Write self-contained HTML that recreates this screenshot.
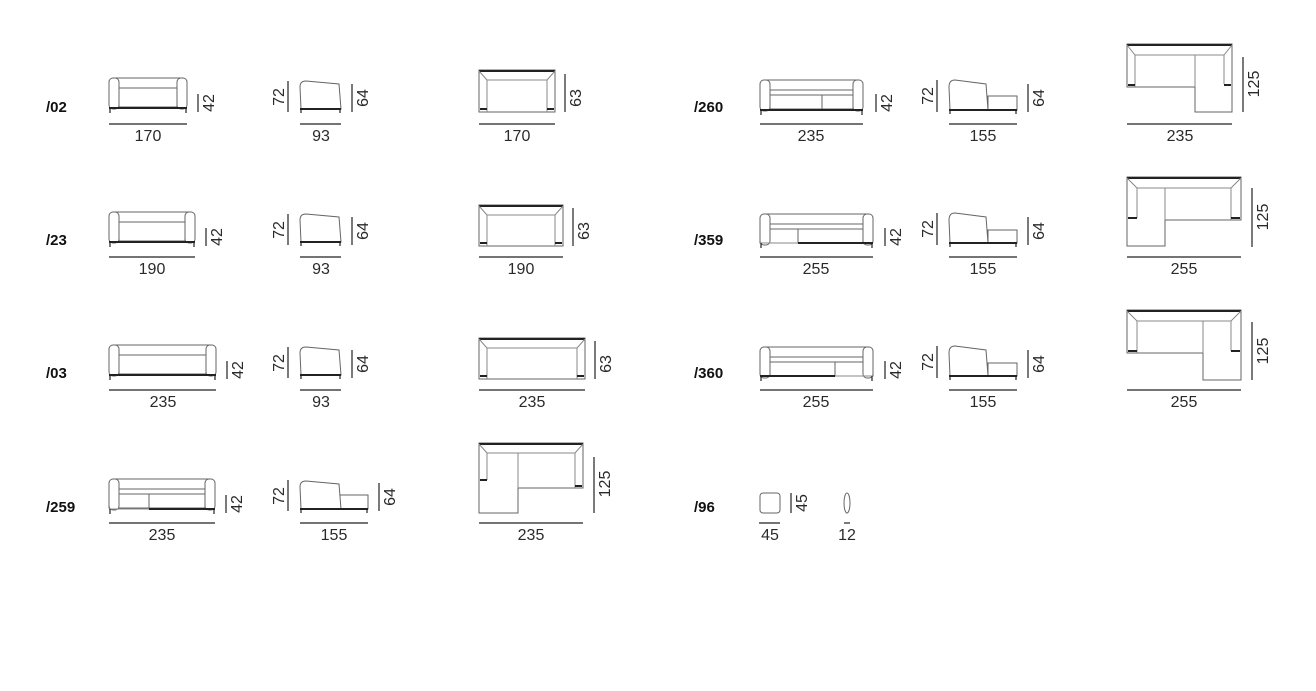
<!DOCTYPE html>
<html><head><meta charset="utf-8"><style>
html,body{margin:0;padding:0;background:#fff;}
svg{display:block}
text{font-family:"Liberation Sans",sans-serif;font-size:16px;fill:#2a2a2a}
.lb{font-weight:bold;font-size:15px;fill:#111}
.s{fill:#fff;stroke:#666;stroke-width:1}
.l{stroke:#888;stroke-width:1;fill:none}
.d{stroke:#222;stroke-width:1.2}
.b{stroke:#222;stroke-width:2}
</style></head><body>
<svg width="1316" height="691" viewBox="0 0 1316 691">

<text class="lb" x="46" y="112">/02</text>
<text class="lb" x="46" y="245">/23</text>
<text class="lb" x="46" y="378">/03</text>
<text class="lb" x="46" y="512">/259</text>
<text class="lb" x="694" y="112">/260</text>
<text class="lb" x="694" y="245">/359</text>
<text class="lb" x="694" y="378">/360</text>
<text class="lb" x="694" y="512">/96</text>

<g>
<rect class="s" x="113" y="78" width="70" height="10"/>
<rect class="s" x="119" y="88" width="58" height="19"/>
<rect class="s" x="109" y="78" width="10" height="31" rx="4"/>
<rect class="s" x="177" y="78" width="10" height="31" rx="4"/>
<line class="b" x1="109" y1="108" x2="187" y2="108"/>
<line class="d" x1="110" y1="108" x2="110" y2="113"/><line class="d" x1="186" y1="108" x2="186" y2="113"/>
</g>
<g>
<rect class="s" x="113" y="212" width="78" height="10"/>
<rect class="s" x="119" y="222" width="66" height="19"/>
<rect class="s" x="109" y="212" width="10" height="31" rx="4"/>
<rect class="s" x="185" y="212" width="10" height="31" rx="4"/>
<line class="b" x1="109" y1="242" x2="195" y2="242"/>
<line class="d" x1="110" y1="242" x2="110" y2="247"/><line class="d" x1="194" y1="242" x2="194" y2="247"/>
</g>
<g>
<rect class="s" x="113" y="345" width="99" height="10"/>
<rect class="s" x="119" y="355" width="87" height="19"/>
<rect class="s" x="109" y="345" width="10" height="31" rx="4"/>
<rect class="s" x="206" y="345" width="10" height="31" rx="4"/>
<line class="b" x1="109" y1="375" x2="216" y2="375"/>
<line class="d" x1="110" y1="375" x2="110" y2="380"/><line class="d" x1="215" y1="375" x2="215" y2="380"/>
</g>
<g>
<rect class="s" x="113" y="479" width="98" height="10"/>
<rect class="s" x="109" y="494" width="40" height="14"/>
<rect class="s" x="149" y="494" width="56" height="14"/>
<rect class="s" x="109" y="479" width="10" height="31" rx="4"/>
<rect class="s" x="205" y="479" width="10" height="31" rx="4"/>
<line class="b" x1="149" y1="509" x2="215" y2="509"/>
<line class="l" x1="109" y1="509" x2="149" y2="509"/>
<line class="d" x1="110" y1="509" x2="110" y2="514"/><line class="d" x1="214" y1="509" x2="214" y2="514"/>
</g>
<g>
<rect class="s" x="764" y="80" width="95" height="10"/>
<rect class="s" x="770" y="95" width="52" height="14"/>
<rect class="s" x="822" y="95" width="31" height="14"/>
<rect class="s" x="760" y="80" width="10" height="31" rx="4"/>
<rect class="s" x="853" y="80" width="10" height="31" rx="4"/>
<line class="b" x1="760" y1="110" x2="863" y2="110"/>
<line class="d" x1="761" y1="110" x2="761" y2="115"/><line class="d" x1="862" y1="110" x2="862" y2="115"/>
</g>
<g>
<rect class="s" x="764" y="214" width="105" height="10"/>
<rect class="s" x="760" y="229" width="38" height="14"/>
<rect class="s" x="798" y="229" width="65" height="14"/>
<rect class="s" x="760" y="214" width="10" height="31" rx="4"/>
<rect class="s" x="863" y="214" width="10" height="31" rx="4"/>
<line class="b" x1="798" y1="243" x2="873" y2="243"/>
<line class="l" x1="760" y1="243" x2="798" y2="243"/>
<line class="d" x1="761" y1="243" x2="761" y2="248"/><line class="d" x1="872" y1="243" x2="872" y2="248"/>
</g>
<g>
<rect class="s" x="764" y="347" width="105" height="10"/>
<rect class="s" x="770" y="362" width="65" height="14"/>
<rect class="s" x="835" y="362" width="38" height="14"/>
<rect class="s" x="760" y="347" width="10" height="31" rx="4"/>
<rect class="s" x="863" y="347" width="10" height="31" rx="4"/>
<line class="b" x1="760" y1="376" x2="835" y2="376"/>
<line class="l" x1="835" y1="376" x2="873" y2="376"/>
<line class="d" x1="761" y1="376" x2="761" y2="381"/><line class="d" x1="872" y1="376" x2="872" y2="381"/>
</g>

<g>
<path class="s" d="M301,109 L300,87 Q300,81 306,81 L339,84 L341,109 Z"/><line class="b" x1="300" y1="109" x2="341" y2="109"/>
<line class="d" x1="301" y1="109" x2="301" y2="113"/><line class="d" x1="340" y1="109" x2="340" y2="113"/>
<path class="s" d="M301,242 L300,220 Q300,214 306,214 L339,217 L341,242 Z"/><line class="b" x1="300" y1="242" x2="341" y2="242"/>
<line class="d" x1="301" y1="242" x2="301" y2="246"/><line class="d" x1="340" y1="242" x2="340" y2="246"/>
<path class="s" d="M301,375 L300,353 Q300,347 306,347 L339,350 L341,375 Z"/><line class="b" x1="300" y1="375" x2="341" y2="375"/>
<line class="d" x1="301" y1="375" x2="301" y2="379"/><line class="d" x1="340" y1="375" x2="340" y2="379"/>
<rect class="s" x="340" y="495" width="28" height="14"/>
<path class="s" d="M301,509 L300,487 Q300,481 306,481 L339,484 L341,509 Z"/><line class="b" x1="300" y1="509" x2="368" y2="509"/>
<line class="d" x1="301" y1="509" x2="301" y2="513"/><line class="d" x1="367" y1="509" x2="367" y2="513"/>
<rect class="s" x="988" y="96" width="29" height="14"/>
<path class="s" d="M950,110 L949,87 Q949,80 955,80 L986,84 L988,110 Z"/><line class="b" x1="949" y1="110" x2="1017" y2="110"/>
<line class="d" x1="950" y1="110" x2="950" y2="114"/><line class="d" x1="1016" y1="110" x2="1016" y2="114"/>
<rect class="s" x="988" y="230" width="29" height="13"/>
<path class="s" d="M950,243 L949,220 Q949,213 955,213 L986,217 L988,243 Z"/><line class="b" x1="949" y1="243" x2="1017" y2="243"/>
<line class="d" x1="950" y1="243" x2="950" y2="247"/><line class="d" x1="1016" y1="243" x2="1016" y2="247"/>
<rect class="s" x="988" y="363" width="29" height="13"/>
<path class="s" d="M950,376 L949,353 Q949,346 955,346 L986,350 L988,376 Z"/><line class="b" x1="949" y1="376" x2="1017" y2="376"/>
<line class="d" x1="950" y1="376" x2="950" y2="380"/><line class="d" x1="1016" y1="376" x2="1016" y2="380"/>
</g>

<g>
<rect class="s" x="479" y="70" width="76" height="42"/>
<line class="b" x1="479" y1="71" x2="555" y2="71"/>
<path class="l" d="M487,112 L487,80 L547,80 L547,112 M479,71 L487,80 M555,71 L547,80"/>
<line class="b" x1="480" y1="109" x2="487" y2="109"/><line class="b" x1="547" y1="109" x2="554" y2="109"/>
</g>
<g>
<rect class="s" x="479" y="205" width="84" height="41"/>
<line class="b" x1="479" y1="206" x2="563" y2="206"/>
<path class="l" d="M487,246 L487,215 L555,215 L555,246 M479,206 L487,215 M563,206 L555,215"/>
<line class="b" x1="480" y1="243" x2="487" y2="243"/><line class="b" x1="555" y1="243" x2="562" y2="243"/>
</g>
<g>
<rect class="s" x="479" y="338" width="106" height="41"/>
<line class="b" x1="479" y1="339" x2="585" y2="339"/>
<path class="l" d="M487,379 L487,348 L577,348 L577,379 M479,339 L487,348 M585,339 L577,348"/>
<line class="b" x1="480" y1="376" x2="487" y2="376"/><line class="b" x1="577" y1="376" x2="584" y2="376"/>
</g>
<g>
<path class="s" d="M479,443 L583,443 L583,488 L518,488 L518,513 L479,513 Z"/>
<line class="b" x1="479" y1="444" x2="583" y2="444"/>
<path class="l" d="M479,444 L487,453 L575,453 L583,444 M487,453 L487,480 M575,453 L575,488 M518,453 L518,488"/>
<line class="b" x1="480" y1="480" x2="487" y2="480"/><line class="b" x1="575" y1="486" x2="582" y2="486"/>
</g>
<g>
<path class="s" d="M1127,44 L1232,44 L1232,112 L1195,112 L1195,87 L1127,87 Z"/>
<line class="b" x1="1127" y1="45" x2="1232" y2="45"/>
<path class="l" d="M1127,45 L1135,55 L1224,55 L1232,45 M1135,55 L1135,87 M1224,55 L1224,84 M1195,55 L1195,87"/>
<line class="b" x1="1128" y1="85" x2="1135" y2="85"/><line class="b" x1="1224" y1="85" x2="1231" y2="85"/>
</g>
<g>
<path class="s" d="M1127,177 L1241,177 L1241,220 L1165,220 L1165,246 L1127,246 Z"/>
<line class="b" x1="1127" y1="178" x2="1241" y2="178"/>
<path class="l" d="M1127,178 L1137,188 L1231,188 L1241,178 M1137,188 L1137,218 M1231,188 L1231,220 M1165,188 L1165,220"/>
<line class="b" x1="1128" y1="218" x2="1137" y2="218"/><line class="b" x1="1231" y1="218" x2="1240" y2="218"/>
</g>
<g>
<path class="s" d="M1127,310 L1241,310 L1241,380 L1203,380 L1203,353 L1127,353 Z"/>
<line class="b" x1="1127" y1="311" x2="1241" y2="311"/>
<path class="l" d="M1127,311 L1137,321 L1231,321 L1241,311 M1137,321 L1137,353 M1231,321 L1231,351 M1203,321 L1203,353"/>
<line class="b" x1="1128" y1="351" x2="1137" y2="351"/><line class="b" x1="1231" y1="351" x2="1240" y2="351"/>
</g>
<rect class="s" x="760" y="493" width="20" height="20" rx="3"/>
<ellipse class="s" cx="847" cy="503" rx="3" ry="10"/>

<g class="d" stroke="#222" stroke-width="1.2">
<line x1="109" y1="124" x2="187" y2="124"/><line x1="300" y1="124" x2="341" y2="124"/><line x1="479" y1="124" x2="555" y2="124"/>
<line x1="109" y1="257" x2="195" y2="257"/><line x1="300" y1="257" x2="341" y2="257"/><line x1="479" y1="257" x2="563" y2="257"/>
<line x1="109" y1="390" x2="216" y2="390"/><line x1="300" y1="390" x2="341" y2="390"/><line x1="479" y1="390" x2="585" y2="390"/>
<line x1="109" y1="523" x2="215" y2="523"/><line x1="300" y1="523" x2="368" y2="523"/><line x1="479" y1="523" x2="583" y2="523"/>
<line x1="760" y1="124" x2="863" y2="124"/><line x1="949" y1="124" x2="1017" y2="124"/><line x1="1127" y1="124" x2="1232" y2="124"/>
<line x1="760" y1="257" x2="873" y2="257"/><line x1="949" y1="257" x2="1017" y2="257"/><line x1="1127" y1="257" x2="1241" y2="257"/>
<line x1="760" y1="390" x2="873" y2="390"/><line x1="949" y1="390" x2="1017" y2="390"/><line x1="1127" y1="390" x2="1241" y2="390"/>
<line x1="759" y1="523" x2="780" y2="523"/><line x1="844" y1="523" x2="850" y2="523"/>
<line x1="198" y1="94" x2="198" y2="112"/><line x1="288" y1="81" x2="288" y2="112"/><line x1="352" y1="84" x2="352" y2="112"/><line x1="565" y1="74" x2="565" y2="112"/>
<line x1="206" y1="228" x2="206" y2="246"/><line x1="288" y1="214" x2="288" y2="245"/><line x1="352" y1="217" x2="352" y2="245"/><line x1="573" y1="208" x2="573" y2="246"/>
<line x1="227" y1="361" x2="227" y2="379"/><line x1="288" y1="347" x2="288" y2="378"/><line x1="352" y1="350" x2="352" y2="378"/><line x1="595" y1="341" x2="595" y2="379"/>
<line x1="226" y1="495" x2="226" y2="513"/><line x1="288" y1="480" x2="288" y2="511"/><line x1="379" y1="483" x2="379" y2="511"/><line x1="594" y1="457" x2="594" y2="513"/>
<line x1="876" y1="94" x2="876" y2="112"/><line x1="937" y1="80" x2="937" y2="112"/><line x1="1028" y1="84" x2="1028" y2="112"/><line x1="1243" y1="57" x2="1243" y2="112"/>
<line x1="885" y1="228" x2="885" y2="246"/><line x1="937" y1="213" x2="937" y2="245"/><line x1="1028" y1="217" x2="1028" y2="245"/><line x1="1252" y1="188" x2="1252" y2="247"/>
<line x1="885" y1="361" x2="885" y2="379"/><line x1="937" y1="346" x2="937" y2="378"/><line x1="1028" y1="350" x2="1028" y2="378"/><line x1="1252" y1="322" x2="1252" y2="380"/>
<line x1="791" y1="493" x2="791" y2="513"/>
</g>

<g text-anchor="middle">
<text x="148" y="141">170</text><text x="321" y="141">93</text><text x="517" y="141">170</text>
<text x="152" y="274">190</text><text x="321" y="274">93</text><text x="521" y="274">190</text>
<text x="163" y="407">235</text><text x="321" y="407">93</text><text x="532" y="407">235</text>
<text x="162" y="540">235</text><text x="334" y="540">155</text><text x="531" y="540">235</text>
<text x="811" y="141">235</text><text x="983" y="141">155</text><text x="1180" y="141">235</text>
<text x="816" y="274">255</text><text x="983" y="274">155</text><text x="1184" y="274">255</text>
<text x="816" y="407">255</text><text x="983" y="407">155</text><text x="1184" y="407">255</text>
<text x="770" y="540">45</text><text x="847" y="540">12</text>
</g>
<g text-anchor="middle">
<text transform="translate(214,103) rotate(-90)">42</text>
<text transform="translate(284,97) rotate(-90)">72</text>
<text transform="translate(368,98) rotate(-90)">64</text>
<text transform="translate(581,98) rotate(-90)">63</text>

<text transform="translate(222,237) rotate(-90)">42</text>
<text transform="translate(284,230) rotate(-90)">72</text>
<text transform="translate(368,231) rotate(-90)">64</text>
<text transform="translate(589,231) rotate(-90)">63</text>

<text transform="translate(243,370) rotate(-90)">42</text>
<text transform="translate(284,363) rotate(-90)">72</text>
<text transform="translate(368,364) rotate(-90)">64</text>
<text transform="translate(611,364) rotate(-90)">63</text>

<text transform="translate(242,504) rotate(-90)">42</text>
<text transform="translate(284,496) rotate(-90)">72</text>
<text transform="translate(395,497) rotate(-90)">64</text>
<text transform="translate(610,484) rotate(-90)">125</text>

<text transform="translate(892,103) rotate(-90)">42</text>
<text transform="translate(933,96) rotate(-90)">72</text>
<text transform="translate(1044,98) rotate(-90)">64</text>
<text transform="translate(1259,84) rotate(-90)">125</text>

<text transform="translate(901,237) rotate(-90)">42</text>
<text transform="translate(933,229) rotate(-90)">72</text>
<text transform="translate(1044,231) rotate(-90)">64</text>
<text transform="translate(1268,217) rotate(-90)">125</text>

<text transform="translate(901,370) rotate(-90)">42</text>
<text transform="translate(933,362) rotate(-90)">72</text>
<text transform="translate(1044,364) rotate(-90)">64</text>
<text transform="translate(1268,351) rotate(-90)">125</text>

<text transform="translate(807,503) rotate(-90)">45</text>
</g>
</svg>
</body></html>
